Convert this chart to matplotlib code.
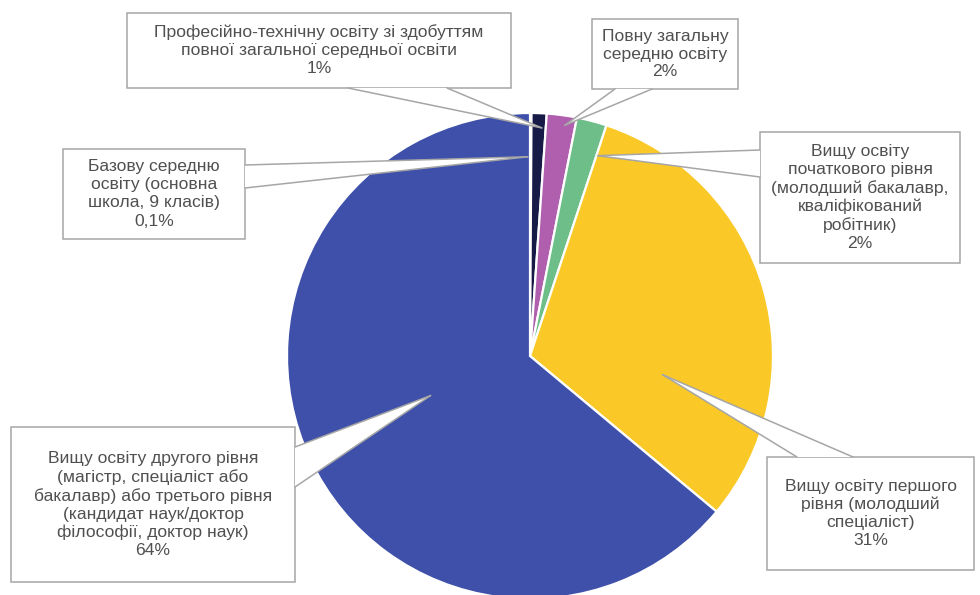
import numpy as np
import matplotlib
matplotlib.use("Agg")
import matplotlib.pyplot as plt
from matplotlib.patches import Rectangle, Polygon

# ---- data ----
categories = [
    "Базову середню\nосвіту (основна\nшкола, 9 класів)",
    "Професійно-технічну освіту зі здобуттям\nповної загальної середньої освіти",
    "Повну загальну\nсередню освіту",
    "Вищу освіту\nпочаткового рівня\n(молодший бакалавр,\nкваліфікований\nробітник)",
    "Вищу освіту першого\nрівня (молодший\nспеціаліст)",
    "Вищу освіту другого рівня\n(магістр, спеціаліст або\nбакалавр) або третього рівня\n(кандидат наук/доктор\nфілософії, доктор наук)",
]
values = [0.1, 1, 2, 2, 31, 64]
pct_labels = ["0,1%", "1%", "2%", "2%", "31%", "64%"]
colors = ["#5A6BB8", "#171A47", "#B05FAE", "#6DBE88", "#FAC927", "#3E50A9"]

# ---- layout (pixel coords, y from top) ----
W, H = 980, 595
CX, CY, R = 530, 356, 243
boxes = [
    (63, 149, 245, 239),
    (127, 13, 511, 88),
    (592, 19, 738, 89),
    (760, 132, 960, 263),
    (767, 457, 974, 570),
    (11, 427, 295, 582),
]
# pointer base: (side, a, b)
bases = [
    ("right", 165, 188),
    ("bottom", 348, 447),
    ("bottom", 615, 652),
    ("left", 150, 177),
    ("top", 797, 853),
    ("right", 447, 487),
]
# pointer tip: (clockwise angle offset from slice middle in deg, radius fraction)
tips = [(-0.8, 0.82), (0.8, 0.94), (1.0, 0.96), (3.9, 0.87), (23.9, 0.55), (3.4, 0.44)]

EDGE = "#A6A6A6"
TXT = "#505050"

fig = plt.figure(figsize=(W / 100, H / 100), dpi=100)
ax = fig.add_axes([0, 0, 1, 1])
wedges, _ = ax.pie(values, colors=colors, startangle=90, counterclock=False,
                   center=(CX, H - CY), radius=R,
                   wedgeprops=dict(edgecolor="white", linewidth=1.6))
ax.set_xlim(0, W)
ax.set_ylim(0, H)
ax.set_aspect("equal")
ax.axis("off")

for i, w in enumerate(wedges):
    x0, y0, x1, y1 = boxes[i]
    ax.add_patch(Rectangle((x0, H - y1), x1 - x0, y1 - y0, facecolor="white",
                           edgecolor=EDGE, linewidth=1.1, zorder=5))
    side, a, b = bases[i]
    if side == "right":
        p1, p2 = (x1, H - a), (x1, H - b)
    elif side == "left":
        p1, p2 = (x0, H - a), (x0, H - b)
    elif side == "bottom":
        p1, p2 = (a, H - y1), (b, H - y1)
    else:
        p1, p2 = (a, H - y0), (b, H - y0)
    mid = (w.theta1 + w.theta2) / 2.0
    off, rf = tips[i]
    ang = np.deg2rad(mid - off)
    tip = (CX + rf * R * np.cos(ang), H - CY + rf * R * np.sin(ang))
    ax.add_patch(Polygon([p1, p2, tip], closed=True, facecolor="white",
                         edgecolor="none", zorder=6))
    ax.plot([p1[0], tip[0]], [p1[1], tip[1]], color=EDGE, lw=1.1, zorder=7,
            solid_capstyle="round")
    ax.plot([p2[0], tip[0]], [p2[1], tip[1]], color=EDGE, lw=1.1, zorder=7,
            solid_capstyle="round")
    ax.text((x0 + x1) / 2, H - (y0 + y1) / 2, categories[i] + "\n" + pct_labels[i],
            ha="center", va="center", multialignment="center",
            fontsize=12.6, color=TXT, linespacing=1.25,
            family=["Liberation Sans", "DejaVu Sans"], zorder=8)

fig.savefig("out.png", dpi=100, facecolor="white")
